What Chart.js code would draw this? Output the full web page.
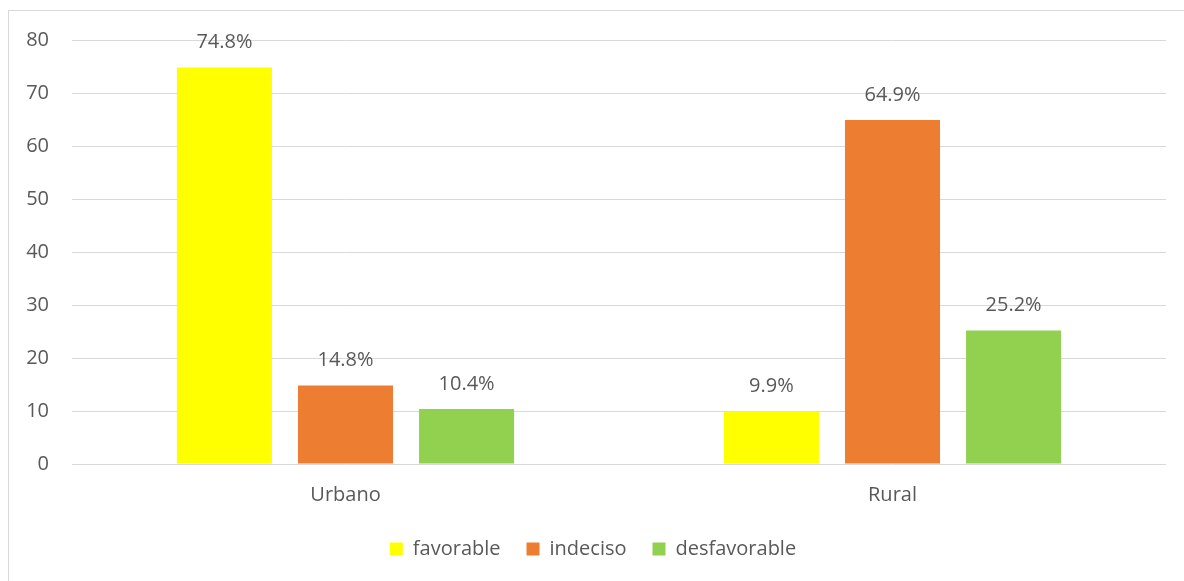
<!DOCTYPE html>
<html>
<head>
<meta charset="utf-8">
<script src="https://cdn.jsdelivr.net/npm/chart.js@4/dist/chart.umd.min.js"></script>
<style>
  html, body { margin: 0; padding: 0; background: #fff; overflow: hidden; }
  #wrap { position: relative; width: 1184px; height: 581px; }
  #frame { position: absolute; left: 8px; top: 10px; width: 1200px; height: 600px; border: 1px solid #d9d9d9; pointer-events: none; }
</style>
</head>
<body>
<div id="wrap">
  <canvas id="my-chart" width="1184" height="581"></canvas>
  <div id="frame"></div>
</div>
<script>
const categories = ["Urbano", "Rural"];
const favorable = [74.8, 9.9];
const indeciso = [14.8, 64.9];
const desfavorable = [10.4, 25.2];
const yTicks = [0, 10, 20, 30, 40, 50, 60, 70, 80];

const textColor = "#595959";
const fontFamily = "'Open Sans', 'Liberation Sans', sans-serif";
const fontSize = 20;

// labels above bars, placed from the bar elements
const barLabels = {
  id: "barLabels",
  afterDatasetsDraw(chart) {
    const ctx = chart.ctx;
    ctx.save();
    ctx.font = fontSize + "px " + fontFamily;
    ctx.fillStyle = textColor;
    ctx.textAlign = "center";
    ctx.textBaseline = "middle";
    chart.data.datasets.forEach((ds, i) => {
      chart.getDatasetMeta(i).data.forEach((bar, j) => {
        ctx.fillText(ds.data[j].toFixed(1) + "%", bar.x, bar.y - 25);
      });
    });
    ctx.restore();
  }
};

const ctx = document.getElementById("my-chart").getContext("2d");
const chart = new Chart(ctx, {
  type: "bar",
  data: {
    labels: categories,
    datasets: [
      { label: "favorable", data: favorable, backgroundColor: "#FFFF00" },
      { label: "indeciso", data: indeciso, backgroundColor: "#ED7D31" },
      { label: "desfavorable", data: desfavorable, backgroundColor: "#92D050" }
    ]
  },
  options: {
    responsive: false,
    animation: false,
    layout: { padding: { left: 20, right: 18, top: 40, bottom: 12 } },
    datasets: { bar: { categoryPercentage: 0.664, barPercentage: 0.785 } },
    plugins: {
      tooltip: { enabled: false },
      legend: {
        position: "bottom",
        labels: {
          color: textColor,
          font: { family: fontFamily, size: fontSize },
          boxWidth: 13,
          boxHeight: 13,
          padding: 26
        }
      }
    },
    scales: {
      x: {
        afterFit(s) { s.height = 49; },
        grid: { display: false },
        border: { display: false },
        ticks: { color: textColor, font: { family: fontFamily, size: fontSize }, padding: 11 }
      },
      y: {
        min: 0,
        max: 80,
        afterFit(s) { s.width = 52; },
        afterBuildTicks(s) { s.ticks = yTicks.map(v => ({ value: v })); },
        grid: { color: "#d9d9d9", lineWidth: 1, drawTicks: false },
        border: { display: false },
        ticks: { color: textColor, font: { family: fontFamily, size: fontSize }, padding: 23 }
      }
    }
  },
  plugins: [barLabels]
});
</script>
</body>
</html>
